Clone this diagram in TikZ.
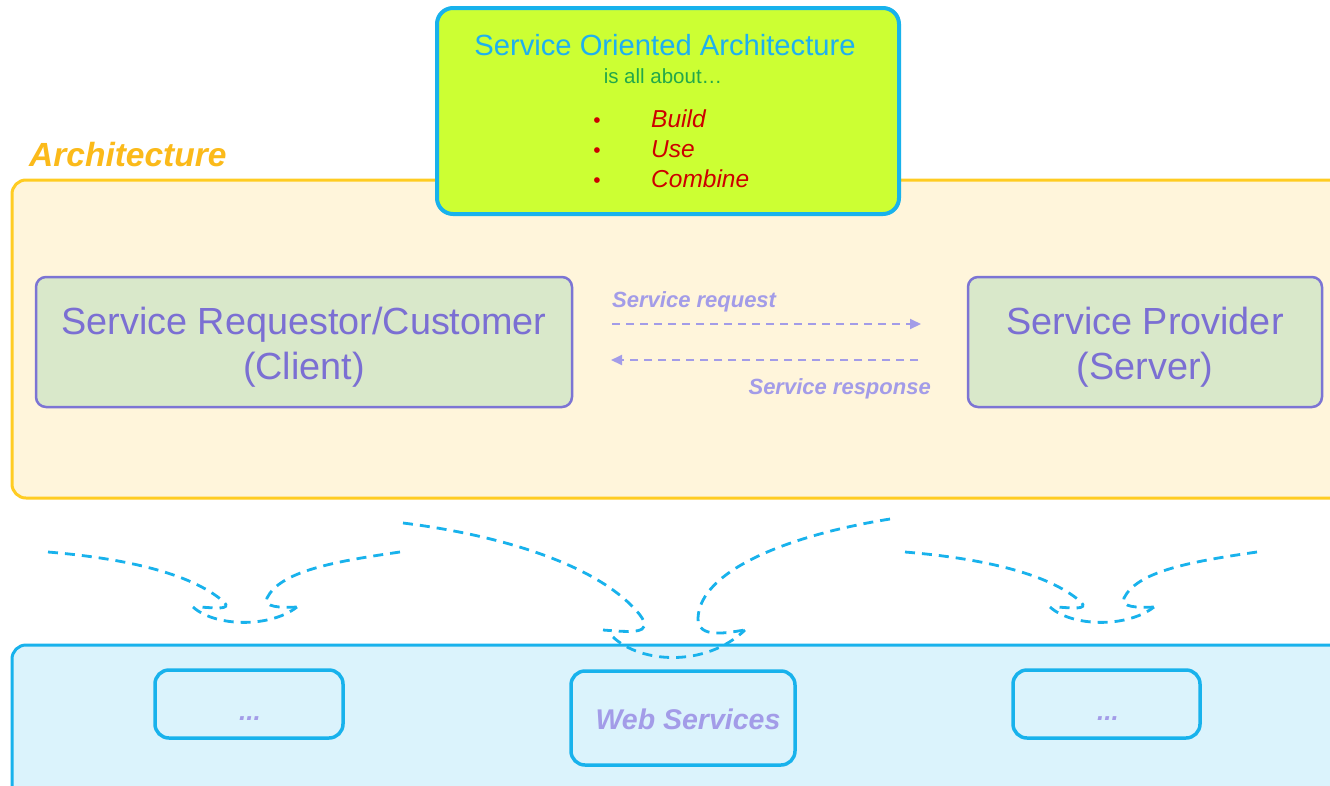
\documentclass[tikz,border=0pt]{standalone}
\usepackage{fontspec}
\setmainfont{Liberation Sans}
\usetikzlibrary{arrows.meta}
\definecolor{archtxt}{HTML}{FBBA1A}
\definecolor{archline}{HTML}{FFCC22}
\definecolor{archfill}{HTML}{FFF5DB}
\definecolor{lime}{HTML}{CCFF33}
\definecolor{cyanline}{HTML}{18B2EC}
\definecolor{titlec}{HTML}{1EB0F0}
\definecolor{greenc}{HTML}{22A84A}
\definecolor{redc}{HTML}{CC0000}
\definecolor{boxfill}{HTML}{D9E8CA}
\definecolor{boxline}{HTML}{7C74D4}
\definecolor{purpletxt}{HTML}{7B6FD3}
\definecolor{lightpurple}{HTML}{A39CE8}
\definecolor{bluefill}{HTML}{DBF3FC}
\begin{document}
\begin{tikzpicture}[x=1pt,y=-1pt,
  roleframe/.style={draw=boxline, fill=boxfill, line width=2.5pt, rounded corners=10pt, inner sep=0pt},
  wsframe/.style={draw=cyanline, fill=bluefill, line width=3.5pt, rounded corners=14pt, inner sep=0pt},
  bigtxt/.style={text=purpletxt, font=\fontsize{37.8}{40}\selectfont, anchor=base, inner sep=0pt},
  msgline/.style={draw=lightpurple, line width=2pt, dash pattern=on 8pt off 6pt},
  msgtxt/.style={text=lightpurple, font=\fontsize{22}{24}\selectfont\bfseries\itshape, inner sep=0pt},
  curl/.style={draw=cyanline, line width=2.8pt, dash pattern=on 10pt off 7pt},
  bullettxt/.style={text=redc, font=\fontsize{24.5}{26}\selectfont\itshape, anchor=base west, inner sep=0pt},
  bulletdot/.style={text=redc, font=\fontsize{21}{22}\selectfont, anchor=base, inner sep=0pt}
]
\clip (0,0) rectangle (1330,785);
\fill[white] (0,0) rectangle (1330,785);

% Architecture frame
\node[draw=archline, fill=archfill, line width=3pt, rounded corners=14pt,
      minimum width=1333pt, minimum height=318pt, inner sep=0pt] (arch) at (678.5,339) {};
\node[text=archtxt, font=\fontsize{33.5}{36}\selectfont\bfseries\itshape, anchor=base west, inner sep=0pt] (archlbl) at (29,166) {Architecture};

% SOA box
\node[draw=cyanline, fill=lime, line width=4pt, rounded corners=16pt,
      minimum width=462pt, minimum height=206pt, inner sep=0pt] (soa) at (668,111) {};
\node[text=titlec, font=\fontsize{29.2}{32}\selectfont, anchor=base, inner sep=0pt] (soatitle) at (665,55) {Service Oriented Architecture};
\node[text=greenc, font=\fontsize{20.5}{22}\selectfont, anchor=base, inner sep=0pt] (about) at (663,83) {is all about…};
\node[bulletdot] (b1) at (597,127) {•};
\node[bulletdot] (b2) at (597,157) {•};
\node[bulletdot] (b3) at (597,187) {•};
\node[bullettxt] (build) at (651,127) {Build};
\node[bullettxt] (use) at (651,157) {Use};
\node[bullettxt] (combine) at (651,187) {Combine};

% Client and server
\node[roleframe, minimum width=536pt, minimum height=130pt] (client) at (304,342) {};
\node[bigtxt] (clientl1) at (304,334) {Service Requestor/Customer};
\node[bigtxt] (clientl2) at (304,379) {(Client)};
\node[roleframe, minimum width=354pt, minimum height=130pt] (server) at (1145,342) {};
\node[bigtxt] (serverl1) at (1145,334) {Service Provider};
\node[bigtxt] (serverl2) at (1145,379) {(Server)};

% Messages
\coordinate (rqa) at (612,324);
\coordinate (rqb) at (921,324);
\coordinate (rsa) at (918,360);
\coordinate (rsb) at (611,360);
\draw[msgline, -{Triangle[length=11pt,width=10pt]}] (rqa) -- (rqb);
\draw[msgline, -{Triangle[length=11pt,width=10pt]}] (rsa) -- (rsb);
\node[msgtxt, anchor=base west] (rqlbl) at (612,307) {Service request};
\node[msgtxt, anchor=base east] (rslbl) at (931,394) {Service response};

% Web services layer
\node[draw=cyanline, fill=bluefill, line width=3pt, rounded corners=14pt,
      minimum width=1333pt, minimum height=160pt, inner sep=0pt] (wsl) at (678.5,725) {};
\node[wsframe, minimum width=188pt, minimum height=68pt] (boxl) at (249,704) {};
\node[wsframe, minimum width=224pt, minimum height=94pt] (boxws) at (683,718) {};
\node[wsframe, minimum width=187pt, minimum height=68pt] (boxr) at (1106.5,704) {};
\node[text=lightpurple, font=\fontsize{28.5}{30}\selectfont\bfseries\itshape, anchor=base, inner sep=0pt] (wstxt) at (688,729) {Web Services};
\node[text=lightpurple, font=\fontsize{26}{28}\selectfont\bfseries\itshape, anchor=base, inner sep=0pt] (dotl) at (250,720) {...};
\node[text=lightpurple, font=\fontsize{26}{28}\selectfont\bfseries\itshape, anchor=base, inner sep=0pt] (dotr) at (1108,720) {...};

% Dashed curls, left and right groups
\foreach \dx in {0,857}{
\begin{scope}[xshift=\dx]
\draw[curl] (48,552) .. controls (120,558) and (190,572) .. (224,602) .. controls (232,610) and (215,608) .. (200,607);
\draw[curl] (400,552) .. controls (330,562) and (280,572) .. (267,598) .. controls (263,607) and (280,608) .. (297,607);
\draw[curl] (193,607) .. controls (215,627) and (270,628) .. (297,607);
\end{scope}}
% middle group
\draw[curl] (403,523) .. controls (500,535) and (600,565) .. (640,615) .. controls (655,635) and (630,632) .. (603,630);
\draw[curl] (890,519) .. controls (790,535) and (700,570) .. (698,618) .. controls (697,640) and (730,632) .. (745,630);
\draw[curl] (613,637) .. controls (640,663) and (705,668) .. (745,630);
\end{tikzpicture}
\end{document}
